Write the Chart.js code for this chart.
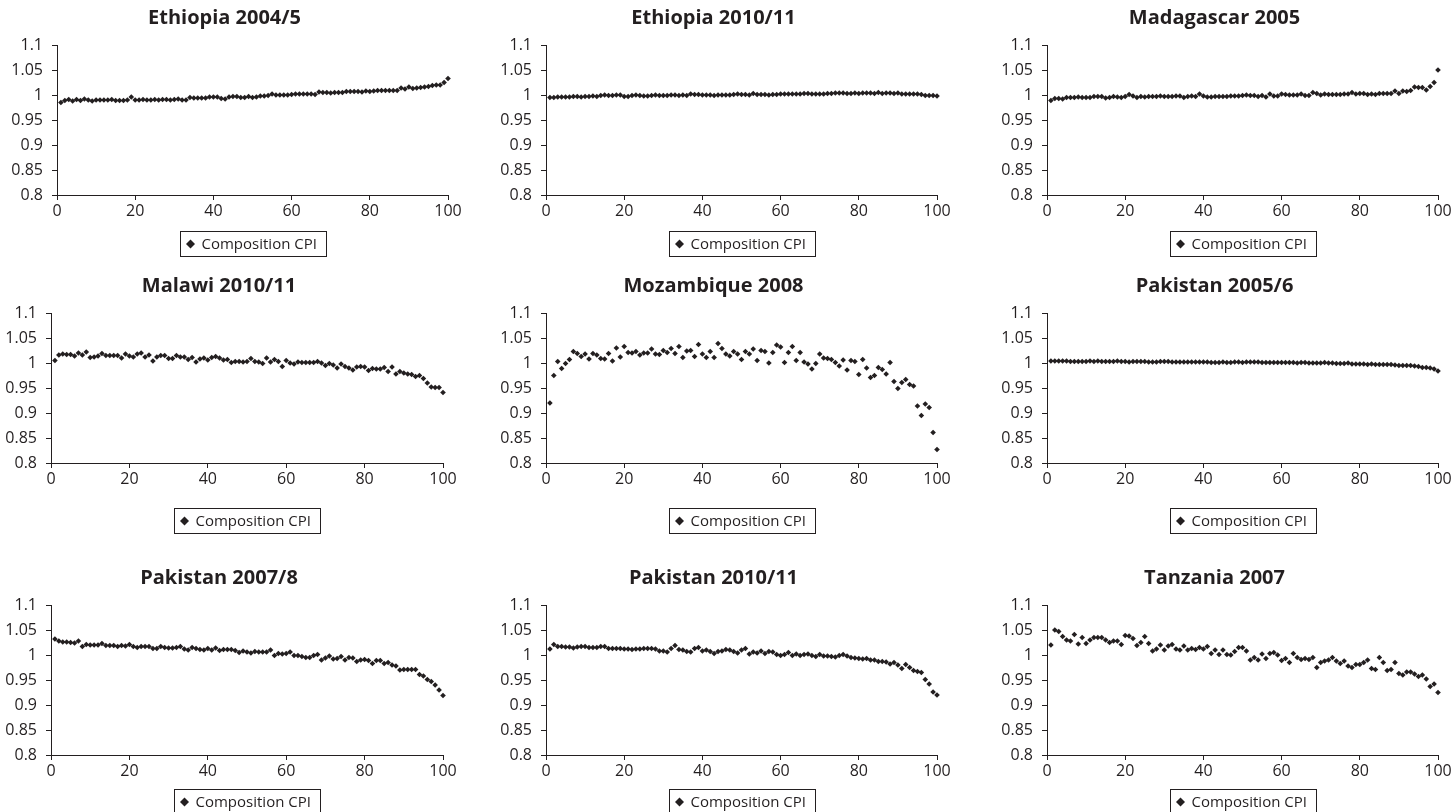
<!DOCTYPE html>
<html>
<head>
<meta charset="utf-8">
<title>Composition CPI by percentile</title>
<script src="https://cdn.jsdelivr.net/npm/chart.js@4.4.1/dist/chart.umd.min.js"></script>
<style>
  html, body { margin: 0; padding: 0; background: #fff; overflow: hidden; }
  .panel { position: absolute; }
</style>
</head>
<body>
<script>
// percentile ranks on the x axis
const percentiles = Array.from({ length: 100 }, (_, i) => i + 1);
const xTicks = [0, 20, 40, 60, 80, 100];
const yTicks = [0.8, 0.85, 0.9, 0.95, 1, 1.05, 1.1];
const seriesLabel = 'Composition CPI';

const titles = [
  'Ethiopia 2004/5', 'Ethiopia 2010/11', 'Madagascar 2005',
  'Malawi 2010/11', 'Mozambique 2008', 'Pakistan 2005/6',
  'Pakistan 2007/8', 'Pakistan 2010/11', 'Tanzania 2007',
];

const ethiopia2004 = [
  0.985, 0.989, 0.991, 0.988, 0.991, 0.989, 0.992, 0.990, 0.988, 0.990,
  0.990, 0.990, 0.990, 0.991, 0.989, 0.989, 0.989, 0.990, 0.996, 0.990,
  0.990, 0.991, 0.990, 0.990, 0.991, 0.990, 0.991, 0.991, 0.990, 0.991,
  0.992, 0.990, 0.990, 0.995, 0.994, 0.994, 0.994, 0.994, 0.996, 0.996,
  0.996, 0.993, 0.992, 0.996, 0.997, 0.997, 0.995, 0.995, 0.997, 0.995,
  0.996, 0.998, 0.998, 0.999, 1.002, 1.000, 1.000, 1.000, 1.000, 1.001,
  1.002, 1.002, 1.002, 1.002, 1.002, 1.001, 1.006, 1.005, 1.005, 1.004,
  1.005, 1.005, 1.005, 1.007, 1.007, 1.007, 1.007, 1.006, 1.008, 1.007,
  1.008, 1.009, 1.009, 1.009, 1.009, 1.009, 1.009, 1.014, 1.012, 1.016,
  1.013, 1.014, 1.015, 1.016, 1.017, 1.019, 1.020, 1.020, 1.025, 1.033,
];

const ethiopia2010 = [
  0.995, 0.995, 0.996, 0.996, 0.996, 0.996, 0.997, 0.997, 0.996, 0.997,
  0.997, 0.998, 0.997, 0.999, 1.000, 0.999, 0.999, 1.000, 1.000, 0.997,
  0.997, 0.999, 1.000, 0.999, 0.998, 0.998, 0.999, 1.000, 0.999, 0.999,
  0.999, 1.000, 1.000, 0.999, 1.000, 0.999, 1.002, 1.001, 1.001, 1.000,
  1.000, 1.000, 0.999, 1.000, 1.000, 1.000, 1.000, 1.001, 1.002, 1.001,
  1.001, 1.000, 1.003, 1.001, 1.001, 1.001, 1.000, 1.001, 1.001, 1.002,
  1.002, 1.002, 1.002, 1.002, 1.002, 1.003, 1.003, 1.002, 1.002, 1.002,
  1.002, 1.003, 1.003, 1.004, 1.004, 1.004, 1.003, 1.003, 1.004, 1.003,
  1.004, 1.004, 1.004, 1.003, 1.005, 1.003, 1.004, 1.004, 1.003, 1.004,
  1.002, 1.002, 1.002, 1.002, 1.002, 1.001, 0.999, 0.999, 0.999, 0.998,
];

const madagascar2005 = [
  0.989, 0.993, 0.993, 0.992, 0.995, 0.995, 0.995, 0.996, 0.995, 0.995,
  0.995, 0.997, 0.997, 0.997, 0.994, 0.995, 0.997, 0.996, 0.995, 0.997,
  1.001, 0.998, 0.995, 0.997, 0.996, 0.997, 0.997, 0.997, 0.998, 0.997,
  0.997, 0.997, 0.998, 0.998, 0.995, 0.997, 0.998, 0.997, 1.002, 0.998,
  0.996, 0.996, 0.997, 0.997, 0.997, 0.997, 0.998, 0.998, 0.998, 0.999,
  1.000, 0.999, 0.999, 0.997, 0.999, 0.996, 1.002, 0.998, 0.998, 1.002,
  1.001, 1.000, 1.000, 1.000, 1.002, 0.999, 0.999, 1.005, 1.003, 1.000,
  1.002, 1.001, 1.001, 1.001, 1.001, 1.002, 1.002, 1.005, 1.002, 1.003,
  1.003, 1.001, 1.002, 1.001, 1.003, 1.003, 1.003, 1.003, 1.008, 1.003,
  1.008, 1.007, 1.009, 1.016, 1.015, 1.015, 1.010, 1.017, 1.025, 1.050,
];

const malawi2010 = [
  1.005, 1.016, 1.018, 1.017, 1.017, 1.014, 1.020, 1.016, 1.022, 1.011,
  1.012, 1.014, 1.019, 1.015, 1.015, 1.015, 1.015, 1.010, 1.018, 1.014,
  1.012, 1.018, 1.020, 1.012, 1.016, 1.004, 1.012, 1.015, 1.015, 1.009,
  1.009, 1.015, 1.012, 1.012, 1.007, 1.011, 1.002, 1.008, 1.010, 1.006,
  1.011, 1.013, 1.010, 1.006, 1.007, 1.001, 1.003, 1.003, 1.002, 1.003,
  1.009, 1.003, 1.002, 0.999, 1.010, 1.002, 1.007, 1.003, 0.993, 1.005,
  1.000, 0.998, 1.002, 1.001, 1.001, 1.001, 1.001, 1.003, 1.000, 0.995,
  0.999, 0.996, 0.990, 0.998, 0.993, 0.990, 0.986, 0.992, 0.993, 0.992,
  0.985, 0.989, 0.988, 0.988, 0.991, 0.983, 0.992, 0.978, 0.983, 0.980,
  0.978, 0.977, 0.973, 0.975, 0.969, 0.960, 0.952, 0.951, 0.951, 0.941,
];

const mozambique2008 = [
  0.920, 0.975, 1.003, 0.989, 0.999, 1.007, 1.023, 1.019, 1.013, 1.018,
  1.008, 1.019, 1.016, 1.009, 1.008, 1.019, 1.004, 1.030, 1.012, 1.033,
  1.021, 1.020, 1.023, 1.016, 1.020, 1.020, 1.028, 1.018, 1.017, 1.025,
  1.021, 1.029, 1.019, 1.033, 1.011, 1.024, 1.025, 1.013, 1.037, 1.018,
  1.011, 1.023, 1.011, 1.039, 1.029, 1.018, 1.014, 1.023, 1.018, 1.007,
  1.023, 1.018, 1.028, 1.005, 1.025, 1.023, 1.000, 1.021, 1.036, 1.032,
  1.001, 1.021, 1.033, 1.005, 1.021, 1.002, 0.998, 0.988, 0.999, 1.018,
  1.010, 1.009, 1.007, 1.001, 0.994, 1.006, 0.986, 1.005, 1.003, 0.977,
  1.007, 0.990, 0.971, 0.975, 0.991, 0.987, 0.978, 1.001, 0.963, 0.949,
  0.961, 0.967, 0.957, 0.954, 0.914, 0.895, 0.918, 0.911, 0.861, 0.827,
];

const pakistan2005 = [
  1.004, 1.004, 1.004, 1.004, 1.004, 1.003, 1.003, 1.003, 1.003, 1.003,
  1.004, 1.003, 1.004, 1.003, 1.003, 1.003, 1.003, 1.004, 1.003, 1.003,
  1.002, 1.003, 1.003, 1.003, 1.003, 1.002, 1.002, 1.002, 1.003, 1.003,
  1.003, 1.002, 1.002, 1.002, 1.002, 1.002, 1.002, 1.002, 1.002, 1.002,
  1.002, 1.001, 1.001, 1.001, 1.002, 1.001, 1.001, 1.002, 1.002, 1.001,
  1.002, 1.002, 1.002, 1.002, 1.001, 1.001, 1.001, 1.001, 1.001, 1.001,
  1.001, 1.001, 1.001, 1.000, 1.001, 1.001, 1.000, 1.000, 1.000, 1.000,
  1.001, 1.000, 1.000, 0.999, 0.999, 0.999, 1.000, 0.998, 0.998, 0.998,
  0.998, 0.997, 0.998, 0.997, 0.997, 0.997, 0.997, 0.997, 0.996, 0.995,
  0.995, 0.995, 0.995, 0.994, 0.993, 0.991, 0.991, 0.990, 0.988, 0.984,
];

const pakistan2007 = [
  1.032, 1.028, 1.026, 1.026, 1.025, 1.024, 1.028, 1.017, 1.021, 1.020,
  1.020, 1.020, 1.023, 1.019, 1.019, 1.019, 1.017, 1.019, 1.018, 1.021,
  1.017, 1.015, 1.017, 1.017, 1.017, 1.013, 1.013, 1.017, 1.015, 1.014,
  1.014, 1.015, 1.017, 1.012, 1.010, 1.015, 1.013, 1.011, 1.010, 1.013,
  1.010, 1.014, 1.009, 1.011, 1.011, 1.011, 1.009, 1.005, 1.008, 1.006,
  1.004, 1.007, 1.006, 1.006, 1.006, 1.010, 0.999, 1.003, 1.002, 1.003,
  1.006, 0.999, 0.999, 0.997, 0.995, 0.995, 0.999, 1.001, 0.990, 0.994,
  0.998, 0.992, 0.993, 0.997, 0.990, 0.995, 0.994, 0.987, 0.990, 0.991,
  0.989, 0.983, 0.989, 0.989, 0.983, 0.985, 0.980, 0.978, 0.970, 0.971,
  0.971, 0.971, 0.971, 0.961, 0.958, 0.951, 0.947, 0.940, 0.930, 0.919,
];

const pakistan2010 = [
  1.012, 1.021, 1.017, 1.017, 1.016, 1.016, 1.014, 1.016, 1.017, 1.017,
  1.015, 1.015, 1.015, 1.017, 1.017, 1.013, 1.013, 1.013, 1.013, 1.012,
  1.012, 1.011, 1.012, 1.012, 1.013, 1.013, 1.013, 1.012, 1.008, 1.008,
  1.006, 1.013, 1.019, 1.011, 1.010, 1.007, 1.006, 1.013, 1.015, 1.008,
  1.010, 1.007, 1.003, 1.007, 1.008, 1.011, 1.010, 1.007, 1.004, 1.010,
  1.013, 1.002, 1.006, 1.004, 1.008, 1.003, 1.007, 1.006, 1.001, 0.999,
  1.001, 1.005, 0.999, 1.002, 0.999, 1.001, 1.002, 0.999, 0.997, 1.001,
  0.998, 0.998, 0.997, 0.996, 0.999, 1.001, 0.998, 0.995, 0.994, 0.993,
  0.992, 0.993, 0.990, 0.990, 0.987, 0.987, 0.986, 0.982, 0.985, 0.980,
  0.973, 0.981, 0.975, 0.969, 0.967, 0.965, 0.951, 0.942, 0.926, 0.920,
];

const tanzania2007 = [
  1.020, 1.050, 1.047, 1.037, 1.030, 1.028, 1.041, 1.022, 1.035, 1.023,
  1.030, 1.035, 1.035, 1.035, 1.030, 1.025, 1.028, 1.028, 1.021, 1.039,
  1.038, 1.033, 1.019, 1.025, 1.037, 1.023, 1.008, 1.012, 1.020, 1.010,
  1.018, 1.021, 1.012, 1.010, 1.018, 1.010, 1.013, 1.011, 1.015, 1.012,
  1.017, 1.003, 1.010, 1.001, 1.010, 1.001, 1.000, 1.007, 1.015, 1.015,
  1.008, 0.990, 0.995, 0.990, 1.002, 0.993, 1.003, 1.005, 1.000, 0.989,
  0.993, 0.985, 1.003, 0.995, 0.991, 0.993, 0.991, 0.995, 0.975, 0.985,
  0.988, 0.990, 0.995, 0.988, 0.983, 0.988, 0.978, 0.975, 0.981, 0.981,
  0.985, 0.990, 0.973, 0.971, 0.995, 0.985, 0.969, 0.971, 0.985, 0.963,
  0.960, 0.966, 0.966, 0.962, 0.957, 0.960, 0.952, 0.937, 0.942, 0.925,
];

const series = [
  ethiopia2004, ethiopia2010, madagascar2005,
  malawi2010, mozambique2008, pakistan2005,
  pakistan2007, pakistan2010, tanzania2007,
];

// page layout: plot-area edges in page pixels for each row / column
const colEdges = [[[57, 448], [51, 443], [51, 443]], [546, 937], [1047, 1438]];
const rowTops = [45, 313, 605];
const legendGaps = [36, 45, 34];
const PLOT_H = 150, Y_AXIS_W = 56, X_AXIS_H = 22, RIGHT_PAD = 16, LEGEND_SPACE = 56, TOP_SPACE = 45;
const TITLE_SIZE = 20, TITLE_PAD_TOP = 6;

const INK = '#231f20';
const FAMILY = '"Open Sans", "DejaVu Sans", sans-serif';
Chart.defaults.font.family = FAMILY;
Chart.defaults.color = INK;

// legend drawn as a framed box under the plot
const boxedLegend = {
  id: 'boxedLegend',
  afterDraw(chart, args, opts) {
    const { ctx, chartArea } = chart;
    const label = chart.data.datasets[0].label;
    ctx.save();
    ctx.font = '15px ' + FAMILY;
    const tw = ctx.measureText(label).width;
    const w = Math.round(tw + 31), h = 25;
    const cx = (chartArea.left + chartArea.right) / 2;
    const left = Math.round(cx - w / 2) + 0.5;
    const top = Math.round(chartArea.bottom + opts.gap) + 0.5;
    ctx.strokeStyle = INK;
    ctx.lineWidth = 1;
    ctx.strokeRect(left, top, w, h);
    const dx = left + 10, dy = top + h / 2;
    ctx.fillStyle = INK;
    ctx.beginPath();
    ctx.moveTo(dx, dy - 4.5);
    ctx.lineTo(dx + 4.5, dy);
    ctx.lineTo(dx, dy + 4.5);
    ctx.lineTo(dx - 4.5, dy);
    ctx.closePath();
    ctx.fill();
    ctx.textBaseline = 'middle';
    ctx.textAlign = 'left';
    ctx.fillText(label, left + 21, dy + 1);
    ctx.restore();
  },
};

series.forEach((values, i) => {
  const row = Math.floor(i / 3), col = i % 3;
  const edges = col === 0 ? colEdges[0][row] : colEdges[col];
  const plotW = edges[1] - edges[0];
  const width = Y_AXIS_W + plotW + RIGHT_PAD;
  const height = TOP_SPACE + PLOT_H + X_AXIS_H + LEGEND_SPACE;

  const div = document.createElement('div');
  div.className = 'panel';
  div.style.left = (edges[0] - Y_AXIS_W) + 'px';
  div.style.top = (rowTops[row] - TOP_SPACE) + 'px';
  const canvas = document.createElement('canvas');
  canvas.width = width;
  canvas.height = height;
  div.appendChild(canvas);
  document.body.appendChild(div);

  new Chart(canvas, {
    type: 'scatter',
    data: {
      datasets: [{
        label: seriesLabel,
        data: values.map((v, k) => ({ x: percentiles[k], y: v })),
        pointStyle: 'rectRot',
        pointRadius: 2.8,
        pointBorderWidth: 0,
        backgroundColor: INK,
        borderColor: INK,
        clip: false,
      }],
    },
    options: {
      responsive: false,
      animation: false,
      events: [],
      layout: { autoPadding: false, padding: { left: 0, right: RIGHT_PAD, top: 0, bottom: LEGEND_SPACE } },
      plugins: {
        legend: { display: false },
        tooltip: { enabled: false },
        title: {
          display: true,
          text: titles[i],
          color: INK,
          font: { size: TITLE_SIZE, weight: 'bold' },
          padding: { top: TITLE_PAD_TOP, bottom: TOP_SPACE - TITLE_PAD_TOP - TITLE_SIZE * 1.2 },
        },
        boxedLegend: { gap: legendGaps[row] },
      },
      scales: {
        x: {
          type: 'linear',
          min: 0, max: 100,
          afterBuildTicks: s => { s.ticks = xTicks.map(v => ({ value: v })); },
          afterFit: s => { s.height = X_AXIS_H; },
          grid: { drawOnChartArea: false, drawTicks: true, tickLength: 5, color: INK },
          border: { display: true, color: INK, width: 1 },
          ticks: { font: { size: 16 }, padding: 2, maxRotation: 0, color: INK },
        },
        y: {
          min: 0.8, max: 1.1,
          afterBuildTicks: s => { s.ticks = yTicks.map(v => ({ value: v })); },
          afterFit: s => { s.width = Y_AXIS_W; },
          grid: { drawOnChartArea: false, drawTicks: true, tickLength: 5, color: INK },
          border: { display: true, color: INK, width: 1 },
          ticks: {
            font: { size: 16 }, padding: 9, color: INK,
            callback: v => String(+v.toFixed(2)),
          },
        },
      },
    },
    plugins: [boxedLegend],
  });
});
</script>
</body>
</html>
